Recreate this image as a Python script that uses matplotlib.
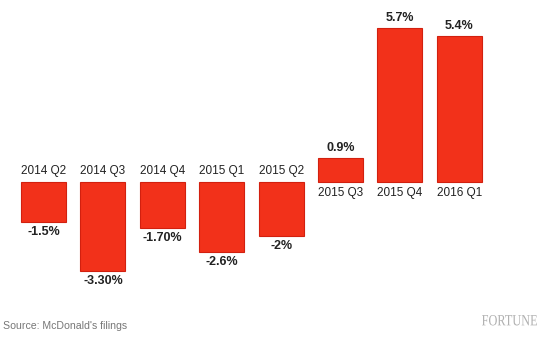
#! /usr/bin/env python3
# McDonald's same-store sales bar chart (Fortune style)

import matplotlib
matplotlib.use("Agg")
import matplotlib.pyplot as plt
from matplotlib.textpath import TextPath
from matplotlib.patches import PathPatch
from matplotlib.font_manager import FontProperties
from matplotlib.transforms import Affine2D

# data
quarters = ["2014 Q2", "2014 Q3", "2014 Q4", "2015 Q1",
            "2015 Q2", "2015 Q3", "2015 Q4", "2016 Q1"]
growth = [-1.5, -3.3, -1.7, -2.6, -2.0, 0.9, 5.7, 5.4]
value_labels = ["-1.5%", "-3.30%", "-1.70%", "-2.6%",
                "-2%", "0.9%", "5.7%", "5.4%"]

BAR_RED = "#f2311a"
EDGE_RED = "#d2200f"
PX = 72.0 / 100  # points per pixel at dpi 100

plt.rcParams["font.family"] = ["Liberation Sans", "DejaVu Sans"]

fig = plt.figure(figsize=(5.49, 3.42), dpi=100)
ax = fig.add_axes([0, 0, 1, 1])
ax.set_axis_off()

x = list(range(len(quarters)))
ax.bar(x, growth, width=0.758, color=BAR_RED, edgecolor=EDGE_RED, linewidth=0.8)

for i, (q, v, lab) in enumerate(zip(quarters, growth, value_labels)):
    sign = 1 if v >= 0 else -1
    # value label at the end of the bar
    ax.annotate(lab, (i, v), xytext=(0, sign * 10 * PX), textcoords="offset points",
                ha="center", va="center", fontsize=9, fontweight="bold",
                color="#222222")
    # quarter label on the other side of zero
    ax.annotate(q, (i, 0), xytext=(0, -sign * 11 * PX), textcoords="offset points",
                ha="center", va="center", fontsize=8.5, color="#222222")

ax.set_xlim(-0.732, 8.51)
ax.set_ylim(-5.93, 6.74)

fig.text(3 / 549, 1 - 326 / 342, "Source: McDonald's filings", ha="left",
         va="center", fontsize=7.6, color="#777777")

# condensed serif logo, drawn as a path in pixel space
tp = TextPath((0, 0), "FORTUNE", size=14,
              prop=FontProperties(family="Liberation Serif"))
bb = tp.get_extents()
sx = 55.0 / bb.width
sy = 10.5 / bb.height
logo = Affine2D().translate(-bb.x0, -bb.y0).scale(sx, sy).translate(482, 342 - 325.5)
fig.patches.append(PathPatch(logo.transform_path(tp), facecolor="#b0b0b0",
                             edgecolor="none", transform=None, figure=fig))

fig.savefig("out.png", dpi=100)
